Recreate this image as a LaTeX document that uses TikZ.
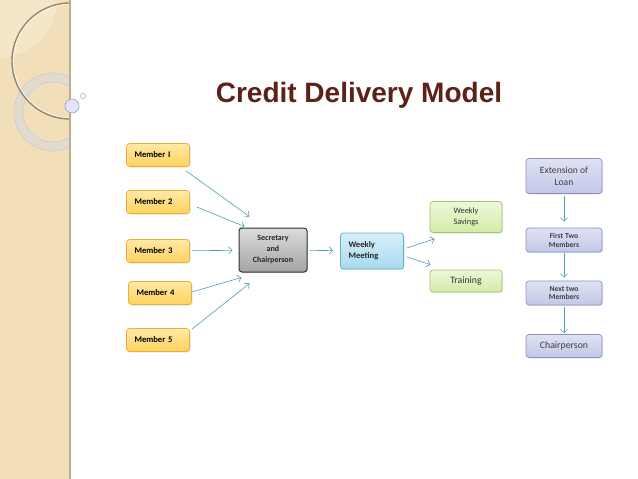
\documentclass[tikz,border=0pt]{standalone}
\usepackage{fontspec}
\setmainfont{Carlito}
\newfontfamily\titlefont{Liberation Sans}
\usetikzlibrary{arrows.meta,shadows}

\definecolor{band}{HTML}{F2DFBA}
\definecolor{bandlt}{HTML}{F5E6C8}
\definecolor{bandedge}{HTML}{BFAE8C}
\definecolor{titlecol}{HTML}{5C2117}
\definecolor{arcol}{HTML}{4E9DBA}
\definecolor{memtop}{HTML}{FFE9A6}
\definecolor{membot}{HTML}{FFD35C}
\definecolor{memline}{HTML}{E9AE3C}
\definecolor{sectop}{HTML}{DCDCDC}
\definecolor{secbot}{HTML}{A4A4A4}
\definecolor{mtgtop}{HTML}{D6EFF9}
\definecolor{mtgbot}{HTML}{A8DAEF}
\definecolor{mtgline}{HTML}{5FB2D0}
\definecolor{grntop}{HTML}{EFF8DA}
\definecolor{grnbot}{HTML}{D2EBA6}
\definecolor{grnline}{HTML}{A2C46A}
\definecolor{lavtop}{HTML}{DFE2F3}
\definecolor{lavbot}{HTML}{C2C7E8}
\definecolor{lavline}{HTML}{8A92C8}

\begin{document}
\begin{tikzpicture}[
  x=1pt, y=-1pt,
  box/.style  = {rounded corners=3pt, align=center, inner sep=2pt,
                 drop shadow={opacity=0.2, shadow xshift=1pt, shadow yshift=-1pt}},
  mem/.style  = {box, draw=memline, line width=0.7pt, top color=memtop,
                 bottom color=membot, text width=47pt, align=left,
                 inner xsep=8pt, minimum height=23pt,
                 font=\fontsize{8.6}{10}\selectfont\bfseries},
  grn/.style  = {box, draw=grnline, line width=0.7pt, top color=grntop,
                 bottom color=grnbot, minimum width=72pt, text=black!80},
  lav/.style  = {box, draw=lavline, line width=0.7pt, top color=lavtop,
                 bottom color=lavbot, minimum width=76pt, text=black!75},
  ar/.style   = {-{Straight Barb[length=3.5pt,width=7pt]}, draw=arcol,
                 line width=0.6pt},
]

  \useasboundingbox (0,0) rectangle (638,479);
  \fill[white] (0,0) rectangle (638,479);

  % ---- left band ---------------------------------------------
  \fill[band] (0,0) rectangle (70,479);
  \fill[bandlt] (0,0) -- (57,0) arc[start angle=0, end angle=90, radius=57] -- cycle;
  \begin{scope}
    \clip (0,0) rectangle (70,479);
    \fill[black!15, opacity=0.7, even odd rule]
      (53,112) circle[radius=39] (53,112) circle[radius=30];
    \draw[black!22, line width=0.4pt] (53,112) circle[radius=39];
    \draw[black!22, line width=0.4pt] (53,112) circle[radius=30];
    \draw[black!40!band, line width=1.4pt] (70,61) circle[radius=58];
    \draw[white, line width=0.5pt] (70,61) circle[radius=56.6];
  \end{scope}
  \draw[bandedge, line width=1.5pt] (70,0) -- (70,479);
  \draw[fill=cyan!20!blue!10, draw=cyan!40!blue!45, line width=0.6pt]
    (72,106) circle[radius=7];
  \draw[fill=white, draw=cyan!40!blue!45, line width=0.5pt]
    (83,96) circle[radius=2.5];

  % ---- title -------------------------------------------------
  \node[text=titlecol, font=\titlefont\fontsize{28}{32}\selectfont\bfseries]
    (ttl) at (359,95) {Credit Delivery Model};

  % ---- members -----------------------------------------------
  \node[mem] (m1) at (158,155) {Member I};
  \node[mem] (m2) at (158,202) {Member 2};
  \node[mem] (m3) at (158,251) {Member 3};
  \node[mem] (m4) at (160,293) {Member 4};
  \node[mem] (m5) at (158,340) {Member 5};

  % ---- secretary and meeting ---------------------------------
  \node[box, draw=black!80, line width=1pt, top color=sectop, bottom color=secbot,
        minimum width=68pt, minimum height=44pt, text=black!85,
        font=\fontsize{8}{11}\selectfont\bfseries]
    (sec) at (273,250) {Secretary\\and\\Chairperson};
  \node[box, draw=mtgline, line width=0.8pt, top color=mtgtop, bottom color=mtgbot,
        text width=47pt, align=left, inner xsep=8pt, minimum height=36pt,
        text=black!85, font=\fontsize{8.6}{11}\selectfont\bfseries]
    (mtg) at (372,251) {Weekly\\Meeting};

  % ---- outcomes ----------------------------------------------
  \node[grn, minimum height=31pt, font=\fontsize{8.3}{10.5}\selectfont]
    (sav) at (466,217) {Weekly\\Savings};
  \node[grn, minimum height=22pt, font=\fontsize{9.8}{11}\selectfont]
    (trn) at (466,281) {Training};

  % ---- loan sequence -----------------------------------------
  \node[lav, minimum height=35pt, font=\fontsize{9.6}{12}\selectfont]
    (ext) at (564,176) {Extension of\\Loan};
  \node[lav, minimum height=24pt, font=\fontsize{7.6}{8.8}\selectfont\bfseries]
    (ft) at (564,240) {First Two\\Members};
  \node[lav, minimum height=24pt, font=\fontsize{7.6}{8.8}\selectfont\bfseries]
    (nt) at (564,293) {Next two\\Members};
  \node[lav, minimum height=23pt, font=\fontsize{9.8}{11}\selectfont]
    (ch) at (564,346) {Chairperson};

  % ---- arrows ------------------------------------------------
  \draw[ar] ([shift={(-4,4)}]m1.south east) -- ([shift={(11,-11)}]sec.north west);
  \draw[ar] ([shift={(7,5)}]m2.east) -- ([shift={(6,-1)}]sec.north west);
  \draw[ar, shorten <=2pt, shorten >=6pt] (m3) -- (sec);
  \draw[ar] ([shift={(0,-1)}]m4.east) -- ([shift={(3,5)}]sec.south west);
  \draw[ar] ([shift={(2,1)}]m5.north east) -- ([shift={(11,11)}]sec.south west);

  \draw[ar, shorten <=2pt, shorten >=7pt] (sec) -- (mtg);
  \draw[ar] ([shift={(3,-3)}]mtg.east) -- ([shift={(5,6)}]sav.south west);
  \draw[ar] ([shift={(3,6)}]mtg.east) -- ([shift={(1,-5)}]trn.north west);

  \draw[ar, shorten <=2pt, shorten >=6pt] (ext) -- (ft);
  \draw[ar, shorten <=1pt, shorten >=3pt] (ft) -- (nt);
  \draw[ar, shorten <=2pt, shorten >=1pt] (nt) -- (ch);

\end{tikzpicture}
\end{document}
